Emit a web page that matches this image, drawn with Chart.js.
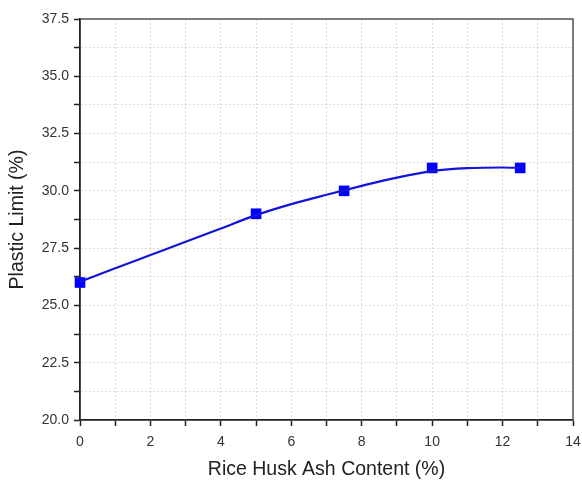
<!DOCTYPE html>
<html>
<head>
<meta charset="utf-8">
<script src="https://cdn.jsdelivr.net/npm/chart.js@4.4.1/dist/chart.umd.min.js"></script>
<style>
  html, body { margin: 0; padding: 0; background: #fff; }
  #wrap { width: 582px; height: 485px; }
</style>
</head>
<body>
<div id="wrap"><canvas id="plChart" width="582" height="485"></canvas></div>
<script>
// measured points
const ashContent = [0, 5, 7.5, 10, 12.5];
const plasticLimit = [26, 29, 30, 31, 31];

// fitted curve
const fitX = [0, 1, 2, 3, 4, 5, 6, 7, 8, 9, 10, 11, 12, 12.5];
const fitY = [26.03, 26.62, 27.2, 27.78, 28.36, 28.94, 29.42, 29.83, 30.22, 30.58, 30.86, 30.99, 31.02, 31.0];

const font = 'Liberation Sans, Arial, sans-serif';

// top and right frame lines
const frame = {
  id: 'frame',
  afterDraw(c) {
    const a = c.chartArea, ctx = c.ctx;
    ctx.save();
    ctx.strokeStyle = '#555';
    ctx.lineWidth = 1.5;
    ctx.beginPath();
    ctx.moveTo(a.left, a.top);
    ctx.lineTo(a.right, a.top);
    ctx.lineTo(a.right, a.bottom);
    ctx.stroke();
    ctx.restore();
  }
};

const ctx = document.getElementById('plChart').getContext('2d');
new Chart(ctx, {
  type: 'scatter',
  data: {
    datasets: [{
      label: 'fit',
      data: fitX.map((x, i) => ({ x, y: fitY[i] })),
      showLine: true,
      borderColor: '#1414d8',
      borderWidth: 2.2,
      pointRadius: 0,
      tension: 0.4,
      cubicInterpolationMode: 'monotone',
      clip: false
    }, {
      label: 'Plastic Limit',
      data: ashContent.map((x, i) => ({ x, y: plasticLimit[i] })),
      showLine: false,
      pointStyle: 'rect',
      pointRadius: 7.5,
      backgroundColor: '#0000ff',
      borderColor: '#0000ff',
      borderWidth: 0,
      clip: false
    }]
  },
  options: {
    responsive: false,
    animation: false,
    layout: { padding: { top: 19, right: 0, left: 0, bottom: 0 } },
    plugins: { legend: { display: false }, tooltip: { enabled: false } },
    scales: {
      x: {
        type: 'linear',
        min: 0, max: 14,
        afterFit: s => { s.height = 65; s.paddingRight = 9; s.paddingLeft = 0; },
        ticks: {
          stepSize: 1,
          padding: 8,
          color: '#333',
          font: { family: font, size: 14 },
          maxRotation: 0,
          callback: v => (v % 2 === 0 ? v : '')
        },
        grid: {
          color: 'rgba(0,0,0,0.14)',
          tickColor: '#222',
          tickLength: 6,
          tickWidth: 1.5
        },
        border: { color: '#222', width: 1.8, dash: [2, 2] },
        title: {
          display: true,
          text: 'Rice Husk Ash Content (%)',
          color: '#222',
          font: { family: font, size: 19.5 },
          padding: { top: 0, bottom: 4 }
        }
      },
      y: {
        min: 20, max: 37.5,
        afterFit: s => { s.width = 80; },
        ticks: {
          stepSize: 1.25,
          padding: 5,
          color: '#333',
          font: { family: font, size: 14 },
          callback: v => (Math.abs(v / 2.5 - Math.round(v / 2.5)) < 1e-6 ? v.toFixed(1) : '')
        },
        grid: {
          color: 'rgba(0,0,0,0.14)',
          tickColor: '#222',
          tickLength: 6,
          tickWidth: 1.5
        },
        border: { color: '#222', width: 1.8, dash: [2, 2] },
        title: {
          display: true,
          text: 'Plastic Limit (%)',
          color: '#222',
          font: { family: font, size: 19.5 },
          padding: { top: 6, bottom: 0 }
        }
      }
    }
  },
  plugins: [frame]
});
</script>
</body>
</html>
